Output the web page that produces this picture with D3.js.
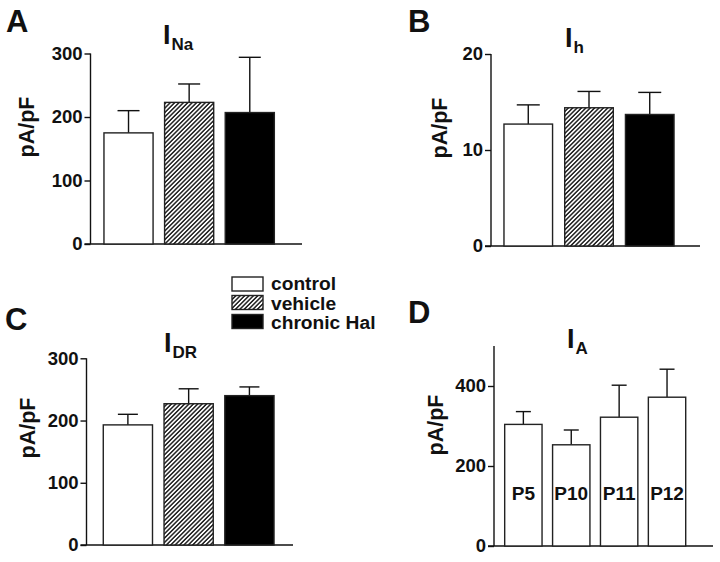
<!DOCTYPE html>
<html>
<head>
<meta charset="utf-8">
<script src="https://cdn.jsdelivr.net/npm/d3@7"></script>
<style>
  html, body { margin: 0; padding: 0; background: #fff; }
  svg { display: block; font-family: "Liberation Sans", Arial, Helvetica, sans-serif; font-weight: bold; }
</style>
</head>
<body>
<svg id="chart" width="720" height="562"></svg>
<script>
// ---- data ----
const groups = ["control", "vehicle", "chronic Hal"];
const naMean = [175, 223, 207];
const naErr  = [35, 29, 87];
const hMean  = [12.7, 14.4, 13.7];
const hErr   = [2.0, 1.7, 2.3];
const drMean = [193, 227, 240];
const drErr  = [17, 24, 14];
const ages   = ["P5", "P10", "P11", "P12"];
const aMean  = [304, 253, 322, 372];
const aErr   = [32, 37, 80, 70];
const naTicks = [0, 100, 200, 300];
const hTicks  = [0, 10, 20];
const drTicks = [0, 100, 200, 300];
const aTicks  = [0, 200, 400];

const svg = d3.select("#chart");
const ink = "#111";

// hatch pattern
const defs = svg.append("defs");
const pat = defs.append("pattern")
  .attr("id", "hatch").attr("patternUnits", "userSpaceOnUse")
  .attr("width", 3.1).attr("height", 10)
  .attr("patternTransform", "rotate(45)");
pat.append("rect").attr("width", 3.1).attr("height", 10).attr("fill", "#fff");
pat.append("line").attr("x1", 0.8).attr("x2", 0.8).attr("y1", 0).attr("y2", 10)
  .attr("stroke", "#222").attr("stroke-width", 1.5);

const fills = ["#fff", "url(#hatch)", "#000"];

function panel(o) {
  const g = svg.append("g");
  const y = d3.scaleLinear().domain(o.domain).range([o.y0, o.yTop]);
  const x = d3.scaleBand().domain(o.cats).range(o.xRange)
    .paddingInner(o.padIn).paddingOuter(o.padOut);

  // y axis
  const ax = g.append("g").attr("transform", `translate(${o.axisX},0)`)
    .call(d3.axisLeft(y).tickValues(o.ticks).tickSize(6).tickPadding(2).tickFormat(d3.format("d")));
  ax.select(".domain").remove();
  ax.selectAll(".tick line").attr("stroke", ink).attr("stroke-width", 1.4);
  ax.selectAll(".tick text").attr("fill", ink).attr("font-size", 18.5)
    .attr("font-family", "Liberation Sans, Arial, sans-serif").attr("font-weight", "bold");
  g.append("line").attr("x1", o.axisX).attr("x2", o.axisX)
    .attr("y1", y(o.domain[0])).attr("y2", y(o.domain[1]))
    .attr("stroke", ink).attr("stroke-width", 1.4);
  // baseline
  g.append("line").attr("x1", o.axisX - 6).attr("x2", o.baseEnd)
    .attr("y1", y(0)).attr("y2", y(0)).attr("stroke", ink).attr("stroke-width", 1.4);

  // error bars
  o.cats.forEach((c, i) => {
    const cx = x(c) + x.bandwidth() / 2;
    const top = y(o.mean[i] + o.err[i]);
    g.append("line").attr("x1", cx).attr("x2", cx)
      .attr("y1", y(o.mean[i])).attr("y2", top).attr("stroke", ink).attr("stroke-width", 1.4);
    g.append("line").attr("x1", cx - o.cap).attr("x2", cx + o.cap)
      .attr("y1", top).attr("y2", top).attr("stroke", ink).attr("stroke-width", 1.4);
  });
  // bars
  g.selectAll("rect.bar").data(o.cats).join("rect").attr("class", "bar")
    .attr("x", c => x(c)).attr("width", x.bandwidth())
    .attr("y", (c, i) => y(o.mean[i])).attr("height", (c, i) => y(0) - y(o.mean[i]))
    .attr("fill", (c, i) => o.fills[i]).attr("stroke", "#222").attr("stroke-width", 1.4);

  if (o.inLabels) {
    g.selectAll("text.lab").data(o.cats).join("text").attr("class", "lab")
      .attr("x", c => x(c) + x.bandwidth() / 2).attr("y", o.labY)
      .attr("text-anchor", "middle").attr("font-size", 19).attr("fill", ink).text(c => c);
  }

  // y label
  g.append("text").attr("transform", `translate(${o.ylab[0]},${o.ylab[1]}) rotate(-90)`)
    .attr("text-anchor", "middle").attr("font-size", 21.5).attr("fill", ink).text("pA/pF");

  // title
  const t = g.append("text").attr("x", o.title[0]).attr("y", o.title[1]).attr("fill", ink);
  t.append("tspan").attr("font-size", 27).text("I");
  t.append("tspan").attr("font-size", 17).attr("dx", 1).attr("dy", 6).text(o.sub);

  // panel letter
  g.append("text").attr("x", o.letter[0]).attr("y", o.letter[1])
    .attr("font-size", 31).attr("fill", ink).text(o.name);
}

panel({ name: "A", sub: "Na", cats: groups, mean: naMean, err: naErr, ticks: naTicks,
  domain: [0, 300], y0: 244, yTop: 53.5, axisX: 90.5, baseEnd: 302,
  xRange: [97.9, 280.4], padIn: 0.19, padOut: 0.1, cap: 11, fills: fills,
  ylab: [34, 127], title: [163, 44], letter: [6, 32] });

panel({ name: "B", sub: "h", cats: groups, mean: hMean, err: hErr, ticks: hTicks,
  domain: [0, 20], y0: 246, yTop: 54, axisX: 491, baseEnd: 700,
  xRange: [497.9, 680.1], padIn: 0.2, padOut: 0.1, cap: 11.5, fills: fills,
  ylab: [447, 128], title: [565, 47], letter: [408, 32] });

panel({ name: "C", sub: "DR", cats: groups, mean: drMean, err: drErr, ticks: drTicks,
  domain: [0, 300], y0: 545, yTop: 358.3, axisX: 86.5, baseEnd: 293,
  xRange: [97.2, 280.1], padIn: 0.19, padOut: 0.1, cap: 10, fills: fills,
  ylab: [35, 428], title: [164, 352], letter: [5, 330] });

panel({ name: "D", sub: "A", cats: ages, mean: aMean, err: aErr, ticks: aTicks,
  domain: [0, 500], y0: 546, yTop: 346, axisX: 494, baseEnd: 713,
  xRange: [499.9, 690.5], padIn: 0.22, padOut: 0.1, cap: 7.5, fills: ["#fff", "#fff", "#fff", "#fff"],
  inLabels: true, labY: 500,
  ylab: [443, 425], title: [567, 348], letter: [408, 323] });

// legend
const leg = svg.append("g");
const legY = [277, 295.5, 314.5];
const legTextY = [290.5, 310, 329];
groups.forEach((gname, i) => {
  leg.append("rect").attr("x", 232).attr("y", legY[i]).attr("width", 31).attr("height", 14)
    .attr("fill", fills[i]).attr("stroke", "#222").attr("stroke-width", 1.4);
  leg.append("text").attr("x", 271).attr("y", legTextY[i]).attr("font-size", 16)
    .attr("transform", `translate(271,${legTextY[i]}) scale(1.2) translate(-271,${-legTextY[i]})`)
    .attr("fill", ink).text(gname);
});
</script>
</body>
</html>
